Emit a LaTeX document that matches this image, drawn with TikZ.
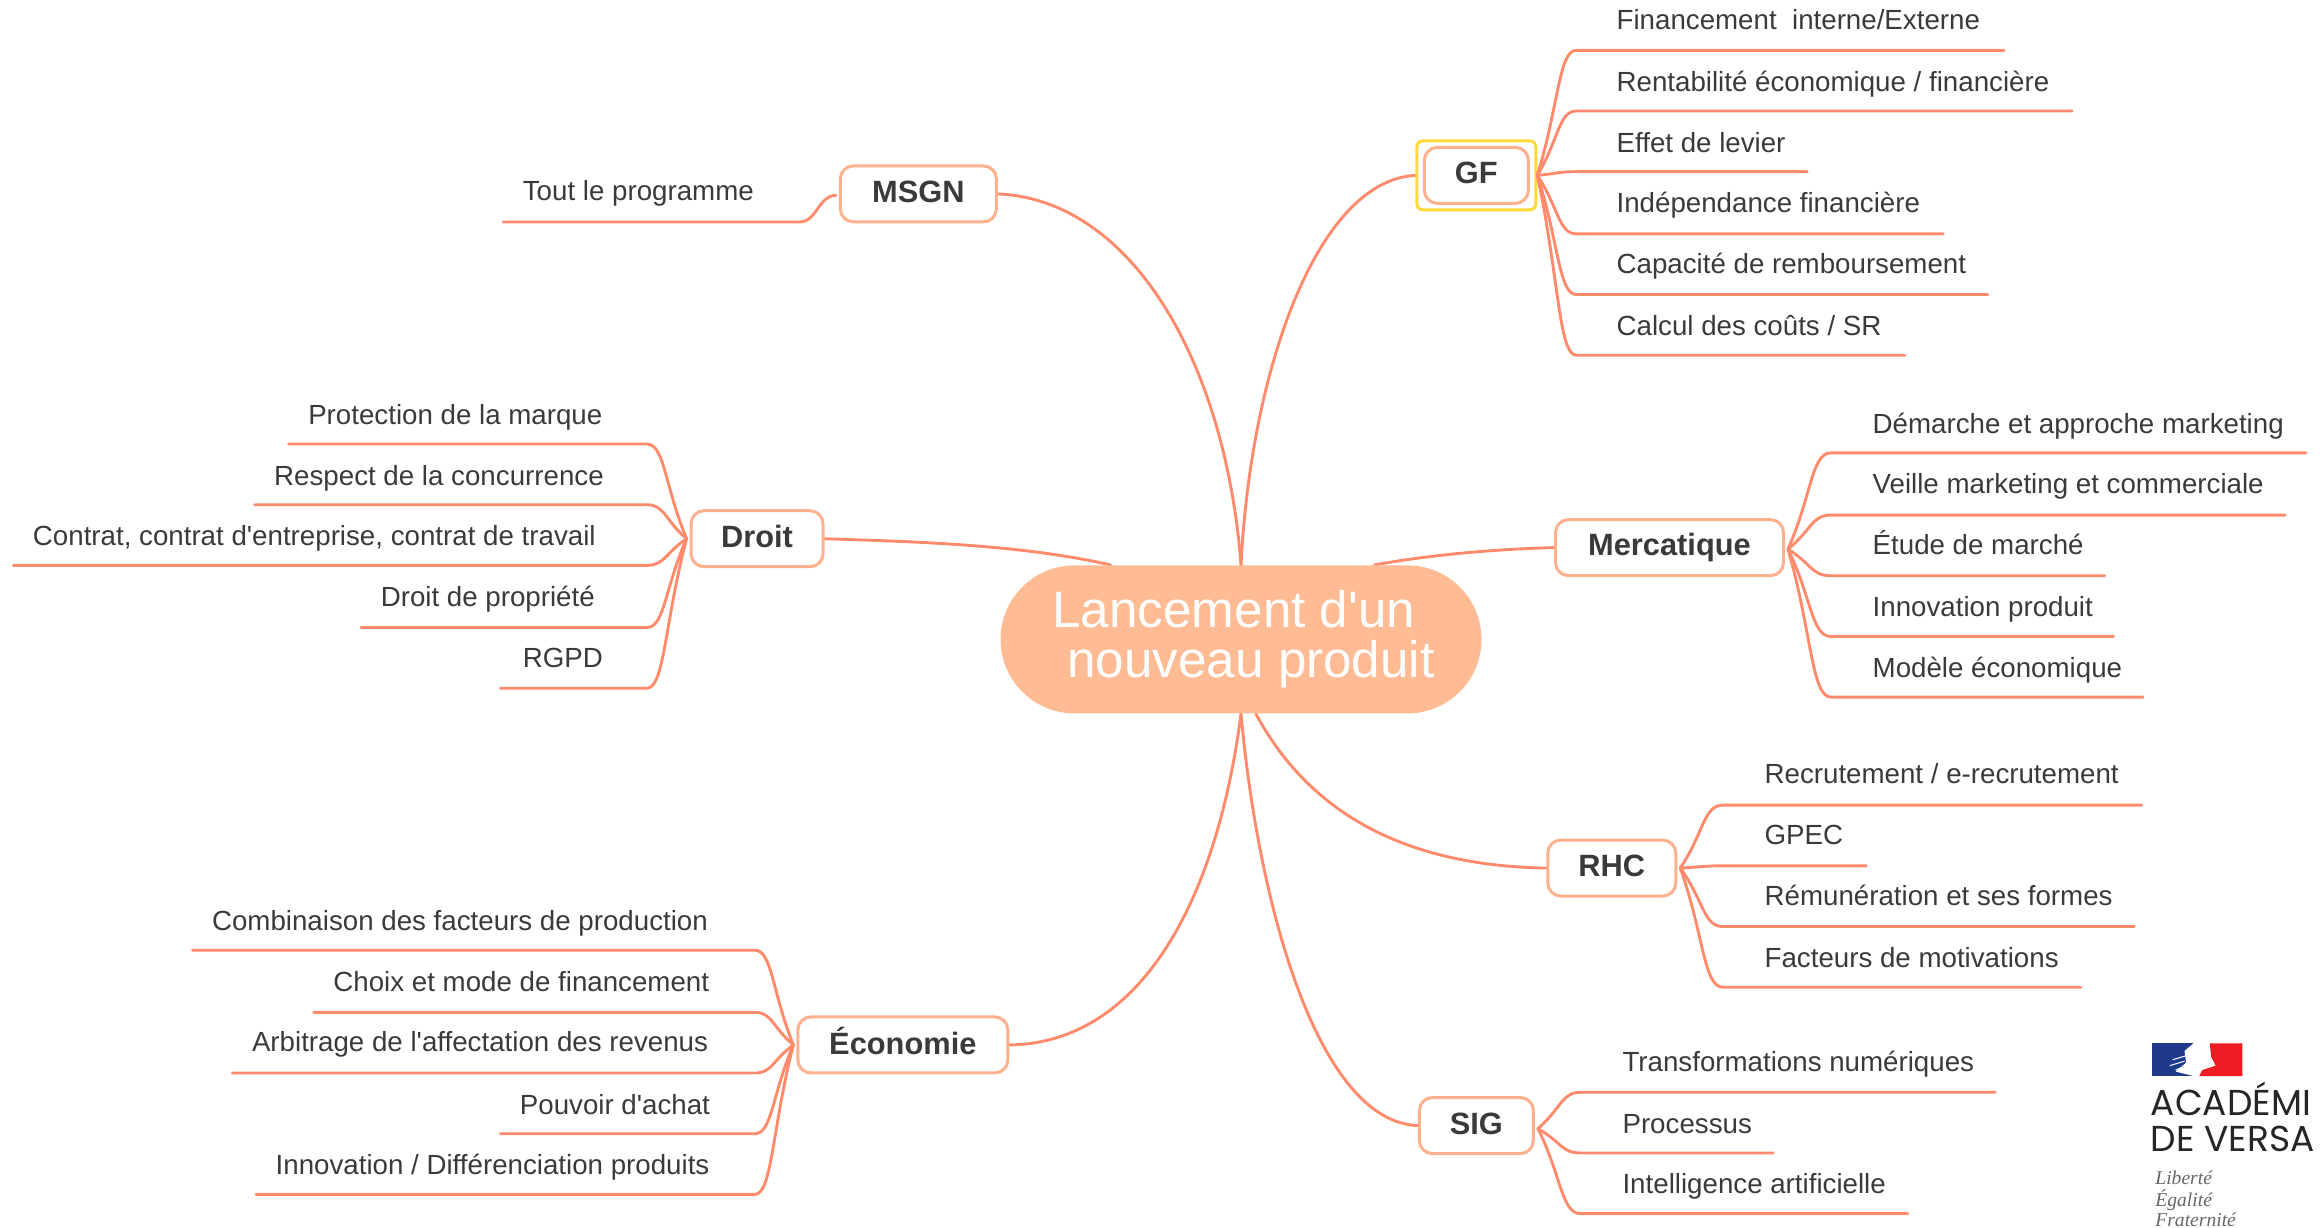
\documentclass[tikz,border=0pt]{standalone}
\usepackage{fontspec}
\setmainfont[Ligatures=TeXOff]{Liberation Sans}
\newfontfamily\logofont{Poppins}
\newfontfamily\mottofont{Liberation Serif}
\usetikzlibrary{calc}
\definecolor{branchc}{HTML}{FF8A6C}
\definecolor{boxc}{HTML}{FFB08C}
\definecolor{rootc}{HTML}{FFBC94}
\definecolor{textc}{HTML}{3A3A3A}
\definecolor{selc}{HTML}{FFD83A}
\pgfdeclarelayer{back}
\pgfsetlayers{back,main}
\tikzset{
  branch/.style={draw=branchc,line width=1.45pt,line cap=round},
  topic/.style={draw=boxc,line width=1.5pt,fill=white,rounded corners=6.5pt,inner sep=0pt,
    font=\fontsize{15.4}{17}\selectfont\bfseries,text=textc,minimum height=28pt},
  leaflabel/.style={anchor=base west,inner sep=0pt,font=\fontsize{13.85}{15}\selectfont,text=textc},
  root/.style={fill=rootc,rounded corners=37pt,inner sep=0pt,minimum width=240.5pt,minimum height=74pt,
    text=white,font=\fontsize{25.6}{25}\selectfont,align=left},
  logotext/.style={anchor=base west,inner sep=0pt,font=\logofont\fontsize{18}{20}\selectfont,text=black!85},
  mottotext/.style={anchor=base west,inner sep=0pt,font=\mottofont\itshape\fontsize{9.8}{11}\selectfont,text=black!60}
}
% id, parent, line start x, line end x, text x, text y, line y, text
\newcommand{\leaf}[8]{%
  \node[leaflabel] (t#1) at (#5,#6+6.7) {#8};
  \coordinate (s#1) at (#3,#7);
  \coordinate (e#1) at (#4,#7);
  \draw[branch] (#2) .. controls ($(#2)!0.55!(s#1)$) and ($(s#1)!0.45!(#2 |- s#1)$) .. (s#1) -- (e#1);
}
\newcommand{\uplabel}[2][2.2pt]{\raisebox{#1}{#2}}
\begin{document}
\begin{tikzpicture}[x=0.74pt,y=-0.74pt]
\useasboundingbox (0,0) rectangle (1568.2,829.7);

% root
\node[root] (ctr) at (838.5,432) {\hspace*{2.5pt}\raisebox{2.2pt}{Lancement d'un}\\\hspace*{10pt}\raisebox{2.2pt}{nouveau produit}};

% topics
\node[topic,minimum width=78pt] (msgn) at (620.5,131) {\uplabel{MSGN}};
\node[topic,minimum width=66pt] (droit) at (511.5,364) {\uplabel{Droit}};
\node[topic,minimum width=105pt] (eco) at (610,706) {\uplabel[3.6pt]{Économie}};
\node[draw=selc,line width=1.5pt,rounded corners=3pt,minimum width=59.5pt,minimum height=34.5pt,inner sep=0pt] (gfsel) at (997.5,118.5) {};
\node[topic,minimum width=52pt] (gf) at (997.5,118.5) {\uplabel{GF}};
\node[topic,minimum width=114pt] (merc) at (1128,370) {\uplabel[1.3pt]{Mercatique}};
\node[topic,minimum width=64pt] (rhc) at (1089,586.5) {\uplabel{RHC}};
\node[topic,minimum width=57pt] (sig) at (997.5,760.5) {\uplabel{SIG}};

% main connectors
\begin{pgfonlayer}{back}
\draw[branch] (ctr.north) .. controls (828,245) and (765,135) .. (msgn.east);
\draw[branch] (ctr.north) .. controls (845,250) and (890,122) .. (gfsel.west);
\draw[branch] ($(ctr.north)+(-88,0)$) .. controls (690,368) and (620,366) .. (droit.east);
\draw[branch] ($(ctr.north)+(90,0)$) .. controls (965,375) and (1010,371) .. (merc.west);
\draw[branch] ($(ctr.south)+(10,0)$) .. controls (885,550) and (950,585) .. (rhc.west);
\draw[branch] (ctr.south) .. controls (850,610) and (890,758) .. (sig.west);
\draw[branch] (ctr.south) .. controls (822,610) and (770,705) .. (eco.east);
\end{pgfonlayer}

% parent points of the leaf branches
\coordinate (pgf) at ($(gf.east)+(5,0)$);
\coordinate (pmerc) at ($(merc.east)+(2,1)$);
\coordinate (prhc) at ($(rhc.east)+(2,0)$);
\coordinate (psig) at ($(sig.east)+(2,2)$);
\coordinate (pmsgn) at ($(msgn.west)+(-2,1)$);
\coordinate (pdroit) at ($(droit.west)+(-2,0)$);
\coordinate (peco) at ($(eco.west)+(-2,0)$);

\leaf{a}{pgf}{1065}{1354}{1092}{13}{34}{Financement\ \ interne/Externe}
\leaf{b}{pgf}{1065}{1400}{1092}{55}{75}{Rentabilité économique / financière}
\leaf{c}{pgf}{1065}{1221}{1092}{96}{116}{Effet de levier}
\leaf{d}{pgf}{1065}{1313}{1092}{137}{158}{Indépendance financière}
\leaf{e}{pgf}{1065}{1343}{1092}{178}{199}{Capacité de remboursement}
\leaf{f}{pgf}{1065}{1287}{1092}{220}{240}{Calcul des coûts / SR}

\leaf{g}{pmerc}{1237}{1558}{1265}{286}{306}{Démarche et approche marketing}
\leaf{h}{pmerc}{1237}{1544}{1265}{327}{348}{Veille marketing et commerciale}
\leaf{i}{pmerc}{1237}{1422}{1265}{368}{389}{Étude de marché}
\leaf{j}{pmerc}{1237}{1428}{1265}{410}{430}{Innovation produit}
\leaf{k}{pmerc}{1237}{1448}{1265}{451}{471}{Modèle économique}

\leaf{l}{prhc}{1164}{1447}{1192}{523}{544}{Recrutement / e-recrutement}
\leaf{m}{prhc}{1164}{1261}{1192}{564}{585}{GPEC}
\leaf{n}{prhc}{1164}{1442}{1192}{605}{626}{Rémunération et ses formes}
\leaf{o}{prhc}{1164}{1406}{1192}{647}{667}{Facteurs de motivations}

\leaf{p}{psig}{1068}{1348}{1096}{717}{738}{Transformations numériques}
\leaf{q}{psig}{1068}{1198}{1096}{759}{779}{Processus}
\leaf{r}{psig}{1068}{1289}{1096}{800}{820}{Intelligence artificielle}

\node[leaflabel] (ts) at (353,135.7) {Tout le programme};
\coordinate (ss) at (540,150);
\coordinate (es) at (340,150);
\draw[branch] (pmsgn) .. controls (553,132) and (552,150) .. (ss) -- (es);

\leaf{t}{pdroit}{437}{195}{208}{280}{300}{Protection de la marque}
\leaf{u}{pdroit}{437}{172}{185}{321}{341}{Respect de la concurrence}
\leaf{v}{pdroit}{437}{9}{22}{362}{382}{Contrat, contrat d'entreprise, contrat de travail}
\leaf{w}{pdroit}{437}{244}{257}{403}{424}{Droit de propriété}
\leaf{x}{pdroit}{437}{338}{353}{444}{465}{RGPD}

\leaf{y}{peco}{510}{130}{143}{622}{642}{Combinaison des facteurs de production}
\leaf{z}{peco}{510}{212}{225}{663}{684}{Choix et mode de financement}
\leaf{aa}{peco}{510}{157}{170}{704}{725}{Arbitrage de l'affectation des revenus}
\leaf{ab}{peco}{510}{338}{351}{746}{766}{Pouvoir d'achat}
\leaf{ac}{peco}{510}{173}{186}{787}{807}{Innovation / Différenciation produits}

% logo
\fill[fill={rgb,255:red,31;green,58;blue,138}] (1454,705) rectangle (1482,727);
\fill[white] (1482,705) -- (1476,710) -- (1477,718) -- (1470,724) -- (1482,727) -- cycle;
\draw[white,line width=0.5pt] (1468,716) -- (1478,713) (1466,720) -- (1476,717) (1470,723) -- (1477,720);
\fill[fill={rgb,255:red,237;green,28;blue,36}] (1493,705) -- (1515,705) -- (1515,727) -- (1486,727) -- (1488,723) -- (1497,720) -- (1494,714) -- cycle;
\node[logotext] (logoa) at (1453,754) {ACADÉMI};
\node[logotext] (logob) at (1453,778) {DE VERSA};
\node[mottotext] (logoc) at (1456,800) {Liberté};
\node[mottotext] (logod) at (1456,815) {Égalité};
\node[mottotext] (logoe) at (1456,829) {Fraternité};
\end{tikzpicture}
\end{document}
